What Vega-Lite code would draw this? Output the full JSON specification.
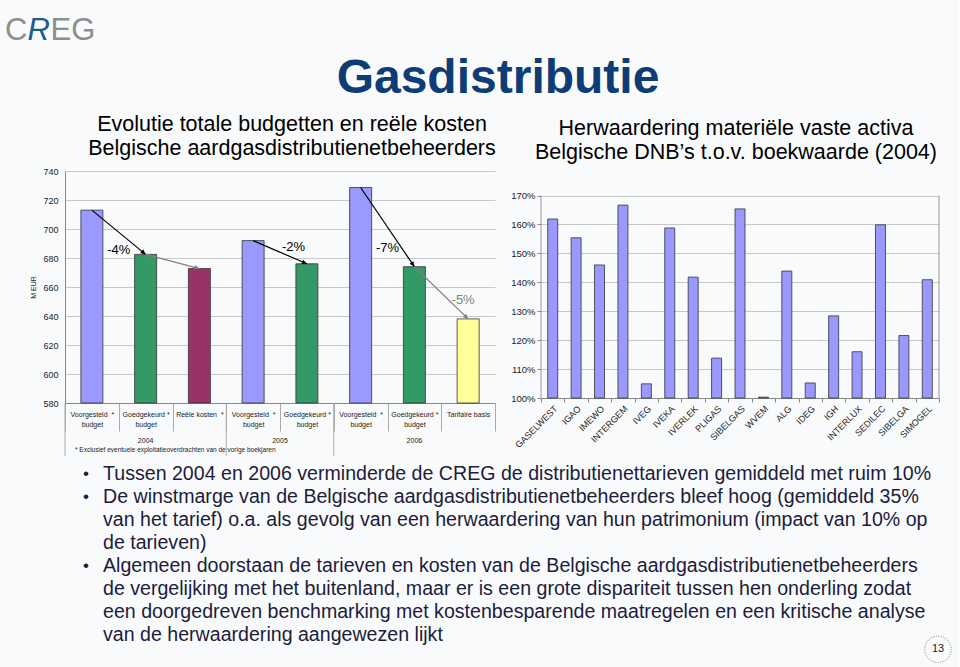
{
  "$schema": "https://vega.github.io/schema/vega-lite/v6.json",
  "background": "#F9FAFC",
  "padding": {"left": 5, "top": 5, "right": 5, "bottom": 5},
  "config": {"font": "Liberation Sans", "view": {"stroke": null}},
  "datasets": {
    "header": [
      {"part": "title", "label": "Gasdistributie"},
      {"part": "C", "label": "C"},
      {"part": "R", "label": "R"},
      {"part": "EG", "label": "EG"}
    ],
    "budget": [
      {"cat": "Voorgesteld\u00a0\u00a0*|budget|2004", "type": "Voorgesteld budget", "year": "2004", "value": 713},
      {"cat": "Goedgekeurd\u00a0*|budget|2004", "type": "Goedgekeurd budget", "year": "2004", "value": 682.5},
      {"cat": "Reële kosten\u00a0\u00a0*||2004", "type": "Reële kosten", "year": "2004", "value": 672.7},
      {"cat": "Voorgesteld\u00a0\u00a0*|budget|2005", "type": "Voorgesteld budget", "year": "2005", "value": 692},
      {"cat": "Goedgekeurd\u00a0*|budget|2005", "type": "Goedgekeurd budget", "year": "2005", "value": 676},
      {"cat": "Voorgesteld\u00a0\u00a0*|budget|2006", "type": "Voorgesteld budget", "year": "2006", "value": 728.6},
      {"cat": "Goedgekeurd\u00a0*|budget|2006", "type": "Goedgekeurd budget", "year": "2006", "value": 674},
      {"cat": "Tarifaire basis||2006", "type": "Tarifaire basis", "year": "2006", "value": 638}
    ],
    "arrows": [
      {"n": 1, "from": "Voorgesteld\u00a0\u00a0*|budget|2004", "to": "Goedgekeurd\u00a0*|budget|2004", "v1": 713, "v2": 682.5},
      {"n": 2, "from": "Goedgekeurd\u00a0*|budget|2004", "to": "Reële kosten\u00a0\u00a0*||2004", "v1": 682.5, "v2": 672.7},
      {"n": 3, "from": "Voorgesteld\u00a0\u00a0*|budget|2005", "to": "Goedgekeurd\u00a0*|budget|2005", "v1": 692, "v2": 676},
      {"n": 4, "from": "Voorgesteld\u00a0\u00a0*|budget|2006", "to": "Goedgekeurd\u00a0*|budget|2006", "v1": 728.6, "v2": 674},
      {"n": 5, "from": "Goedgekeurd\u00a0*|budget|2006", "to": "Tarifaire basis||2006", "v1": 674, "v2": 638}
    ],
    "pct": [
      {"label": "-4%", "cat": "Voorgesteld\u00a0\u00a0*|budget|2004", "v": 685.8},
      {"label": "-2%", "cat": "Voorgesteld\u00a0\u00a0*|budget|2005", "v": 687.4},
      {"label": "-7%", "cat": "Voorgesteld\u00a0\u00a0*|budget|2006", "v": 687.1},
      {"label": "-5%", "cat": "Tarifaire basis||2006", "v": 650.7}
    ],
    "years": [
      {"year": "2004", "cat": "Goedgekeurd\u00a0*|budget|2004"},
      {"year": "2005", "cat": "Goedgekeurd\u00a0*|budget|2005"},
      {"year": "2006", "cat": "Goedgekeurd\u00a0*|budget|2006"}
    ],
    "seps": [
      {"cat": "Voorgesteld\u00a0\u00a0*|budget|2004"},
      {"cat": "Voorgesteld\u00a0\u00a0*|budget|2005"},
      {"cat": "Voorgesteld\u00a0\u00a0*|budget|2006"}
    ],
    "activa": [
      {"dnb": "GASELWEST", "pct": 161.9},
      {"dnb": "IGAO", "pct": 155.4},
      {"dnb": "IMEWO", "pct": 146.0},
      {"dnb": "INTERGEM", "pct": 166.7},
      {"dnb": "IVEG", "pct": 104.9},
      {"dnb": "IVEKA", "pct": 158.8},
      {"dnb": "IVERLEK", "pct": 141.8},
      {"dnb": "PLIGAS", "pct": 113.8},
      {"dnb": "SIBELGAS", "pct": 165.4},
      {"dnb": "WVEM", "pct": 100.3},
      {"dnb": "ALG", "pct": 143.9},
      {"dnb": "IDEG", "pct": 105.2},
      {"dnb": "IGH", "pct": 128.4},
      {"dnb": "INTERLUX", "pct": 116.0},
      {"dnb": "SEDILEC", "pct": 159.9},
      {"dnb": "SIBELGA", "pct": 121.6},
      {"dnb": "SIMOGEL", "pct": 140.9}
    ],
    "bullets": [
      {"line": 1, "bullet": "•", "text": "Tussen 2004 en 2006 verminderde de CREG de distributienettarieven gemiddeld met ruim 10%"},
      {"line": 2, "bullet": "•", "text": "De winstmarge van de Belgische aardgasdistributienetbeheerders bleef hoog (gemiddeld 35%"},
      {"line": 3, "bullet": "", "text": "van het tarief) o.a. als gevolg van een herwaardering van hun patrimonium (impact van 10% op"},
      {"line": 4, "bullet": "", "text": "de tarieven)"},
      {"line": 5, "bullet": "•", "text": "Algemeen doorstaan de tarieven en kosten van de Belgische aardgasdistributienetbeheerders"},
      {"line": 6, "bullet": "", "text": "de vergelijking met het buitenland, maar er is een grote dispariteit tussen hen onderling zodat"},
      {"line": 7, "bullet": "", "text": "een doorgedreven benchmarking met kostenbesparende maatregelen en een kritische analyse"},
      {"line": 8, "bullet": "", "text": "van de herwaardering aangewezen lijkt"}
    ]
  },
  "spacing": 5,
  "vconcat": [
    {
      "width": 870,
      "height": 103,
      "data": {"name": "header"},
      "layer": [
        {
          "transform": [{"filter": "datum.part == 'title'"}],
          "mark": {"type": "text", "fontSize": 48, "fontWeight": "bold", "color": "#0E3D75", "align": "center", "baseline": "alphabetic"},
          "encoding": {
            "x": {"datum": 433, "type": "quantitative", "scale": {"domain": [0, 870], "nice": false, "zero": false}, "axis": null},
            "y": {"datum": 88, "type": "quantitative", "scale": {"domain": [0, 103], "reverse": true, "nice": false, "zero": false}, "axis": null},
            "text": {"field": "label"}
          }
        },
        {
          "transform": [{"filter": "datum.part == 'C'"}],
          "mark": {"type": "text", "fontSize": 31, "color": "#8E8E8E", "align": "left", "baseline": "alphabetic"},
          "encoding": {
            "x": {"datum": -60, "type": "quantitative", "scale": {"domain": [0, 870], "nice": false, "zero": false}, "axis": null},
            "y": {"datum": 35, "type": "quantitative", "scale": {"domain": [0, 103], "reverse": true, "nice": false, "zero": false}, "axis": null},
            "text": {"field": "label"}
          }
        },
        {
          "transform": [{"filter": "datum.part == 'R'"}],
          "mark": {"type": "text", "fontSize": 31, "fontStyle": "italic", "color": "#1F5C8A", "align": "left", "baseline": "alphabetic"},
          "encoding": {
            "x": {"datum": -37.5, "type": "quantitative", "scale": {"domain": [0, 870], "nice": false, "zero": false}, "axis": null},
            "y": {"datum": 35, "type": "quantitative", "scale": {"domain": [0, 103], "reverse": true, "nice": false, "zero": false}, "axis": null},
            "text": {"field": "label"}
          }
        },
        {
          "transform": [{"filter": "datum.part == 'EG'"}],
          "mark": {"type": "text", "fontSize": 31, "color": "#8E8E8E", "align": "left", "baseline": "alphabetic"},
          "encoding": {
            "x": {"datum": -14.5, "type": "quantitative", "scale": {"domain": [0, 870], "nice": false, "zero": false}, "axis": null},
            "y": {"datum": 35, "type": "quantitative", "scale": {"domain": [0, 103], "reverse": true, "nice": false, "zero": false}, "axis": null},
            "text": {"field": "label"}
          }
        }
      ]
    },
    {
      "spacing": 14,
      "hconcat": [
        {
          "width": 430,
          "height": 232,
          "title": {"text": ["Evolutie totale budgetten en reële kosten", "Belgische aardgasdistributienetbeheerders"], "fontSize": 21.5, "fontWeight": "normal", "color": "#000000", "lineHeight": 24, "offset": 8, "dx": 12, "anchor": "middle"},
          "layer": [
            {
              "data": {"name": "budget"},
              "mark": {"type": "bar", "width": 22, "stroke": "#333333", "strokeWidth": 0.8},
              "encoding": {
                "x": {"field": "cat", "type": "nominal", "sort": null,
                  "scale": {"domain": ["Voorgesteld\u00a0\u00a0*|budget|2004", "Goedgekeurd\u00a0*|budget|2004", "Reële kosten\u00a0\u00a0*||2004", "Voorgesteld\u00a0\u00a0*|budget|2005", "Goedgekeurd\u00a0*|budget|2005", "Voorgesteld\u00a0\u00a0*|budget|2006", "Goedgekeurd\u00a0*|budget|2006", "Tarifaire basis||2006"], "paddingInner": 0, "paddingOuter": 0},
                  "axis": {"title": null, "labelAngle": 0, "labelFontSize": 7, "labelColor": "#222222", "labelExpr": "datum.value ? slice(split(datum.value, '|'), 0, 2) : ''", "labelLineHeight": 10, "labelBaseline": "top", "tickBand": "extent", "tickSize": 28, "tickColor": "#AAAAAA", "domainColor": "#888888", "labelPadding": -21}},
                "y": {"field": "value", "type": "quantitative",
                  "scale": {"domain": [580, 740], "zero": false, "nice": false},
                  "axis": {"title": "M EUR", "values": [580, 600, 620, 640, 660, 680, 700, 720, 740], "labelFontSize": 9, "labelColor": "#222222", "ticks": false, "labelPadding": 7, "gridColor": "#C8C8C8", "domainColor": "#888888", "titleFontSize": 7, "titleFontWeight": "normal", "titleColor": "#222222", "titlePadding": 6}},
                "y2": {"datum": 580},
                "color": {"field": "type", "type": "nominal", "scale": {"domain": ["Voorgesteld budget", "Goedgekeurd budget", "Reële kosten", "Tarifaire basis"], "range": ["#9999FF", "#339966", "#993366", "#FFFF99"]}, "legend": null}
              }
            },
            {
              "data": {"name": "seps"},
              "mark": {"type": "rule", "color": "#AAAAAA", "strokeWidth": 1},
              "encoding": {
                "x": {"field": "cat", "type": "nominal", "sort": null, "bandPosition": 0,
                  "scale": {"domain": ["Voorgesteld\u00a0\u00a0*|budget|2004", "Goedgekeurd\u00a0*|budget|2004", "Reële kosten\u00a0\u00a0*||2004", "Voorgesteld\u00a0\u00a0*|budget|2005", "Goedgekeurd\u00a0*|budget|2005", "Voorgesteld\u00a0\u00a0*|budget|2006", "Goedgekeurd\u00a0*|budget|2006", "Tarifaire basis||2006"], "paddingInner": 0, "paddingOuter": 0},
                  "axis": {"title": null, "labelAngle": 0, "labelFontSize": 7, "labelColor": "#222222", "labelExpr": "datum.value ? slice(split(datum.value, '|'), 0, 2) : ''", "labelLineHeight": 10, "labelBaseline": "top", "tickBand": "extent", "tickSize": 28, "tickColor": "#AAAAAA", "domainColor": "#888888", "labelPadding": -21}},
                "y": {"datum": 580, "type": "quantitative",
                  "scale": {"domain": [580, 740], "zero": false, "nice": false},
                  "axis": {"title": "M EUR", "values": [580, 600, 620, 640, 660, 680, 700, 720, 740], "labelFontSize": 9, "labelColor": "#222222", "ticks": false, "labelPadding": 7, "gridColor": "#C8C8C8", "domainColor": "#888888", "titleFontSize": 7, "titleFontWeight": "normal", "titleColor": "#222222", "titlePadding": 6}},
                "y2": {"datum": 543.6}
              }
            },
            {
              "data": {"name": "years"},
              "transform": [{"filter": "datum.year != '2005'"}],
              "mark": {"type": "text", "fontSize": 7, "color": "#222222", "baseline": "middle", "align": "center"},
              "encoding": {
                "x": {"field": "cat", "type": "nominal", "sort": null, "bandPosition": 0.5,
                  "scale": {"domain": ["Voorgesteld\u00a0\u00a0*|budget|2004", "Goedgekeurd\u00a0*|budget|2004", "Reële kosten\u00a0\u00a0*||2004", "Voorgesteld\u00a0\u00a0*|budget|2005", "Goedgekeurd\u00a0*|budget|2005", "Voorgesteld\u00a0\u00a0*|budget|2006", "Goedgekeurd\u00a0*|budget|2006", "Tarifaire basis||2006"], "paddingInner": 0, "paddingOuter": 0},
                  "axis": {"title": null, "labelAngle": 0, "labelFontSize": 7, "labelColor": "#222222", "labelExpr": "datum.value ? slice(split(datum.value, '|'), 0, 2) : ''", "labelLineHeight": 10, "labelBaseline": "top", "tickBand": "extent", "tickSize": 28, "tickColor": "#AAAAAA", "domainColor": "#888888", "labelPadding": -21}},
                "y": {"datum": 554, "type": "quantitative",
                  "scale": {"domain": [580, 740], "zero": false, "nice": false},
                  "axis": {"title": "M EUR", "values": [580, 600, 620, 640, 660, 680, 700, 720, 740], "labelFontSize": 9, "labelColor": "#222222", "ticks": false, "labelPadding": 7, "gridColor": "#C8C8C8", "domainColor": "#888888", "titleFontSize": 7, "titleFontWeight": "normal", "titleColor": "#222222", "titlePadding": 6}},
                "text": {"field": "year"}
              }
            },
            {
              "data": {"name": "years"},
              "transform": [{"filter": "datum.year == '2005'"}],
              "mark": {"type": "text", "fontSize": 7, "color": "#222222", "baseline": "middle", "align": "center"},
              "encoding": {
                "x": {"field": "cat", "type": "nominal", "sort": null, "bandPosition": 0,
                  "scale": {"domain": ["Voorgesteld\u00a0\u00a0*|budget|2004", "Goedgekeurd\u00a0*|budget|2004", "Reële kosten\u00a0\u00a0*||2004", "Voorgesteld\u00a0\u00a0*|budget|2005", "Goedgekeurd\u00a0*|budget|2005", "Voorgesteld\u00a0\u00a0*|budget|2006", "Goedgekeurd\u00a0*|budget|2006", "Tarifaire basis||2006"], "paddingInner": 0, "paddingOuter": 0},
                  "axis": {"title": null, "labelAngle": 0, "labelFontSize": 7, "labelColor": "#222222", "labelExpr": "datum.value ? slice(split(datum.value, '|'), 0, 2) : ''", "labelLineHeight": 10, "labelBaseline": "top", "tickBand": "extent", "tickSize": 28, "tickColor": "#AAAAAA", "domainColor": "#888888", "labelPadding": -21}},
                "y": {"datum": 554, "type": "quantitative",
                  "scale": {"domain": [580, 740], "zero": false, "nice": false},
                  "axis": {"title": "M EUR", "values": [580, 600, 620, 640, 660, 680, 700, 720, 740], "labelFontSize": 9, "labelColor": "#222222", "ticks": false, "labelPadding": 7, "gridColor": "#C8C8C8", "domainColor": "#888888", "titleFontSize": 7, "titleFontWeight": "normal", "titleColor": "#222222", "titlePadding": 6}},
                "text": {"field": "year"}
              }
            },
            {
              "data": {"values": [{"note": "* Exclusief eventuele exploitatieoverdrachten van de vorige boekjaren", "cat": "Voorgesteld\u00a0\u00a0*|budget|2004"}]},
              "mark": {"type": "text", "fontSize": 6.5, "color": "#222222", "baseline": "middle", "align": "left", "dx": 10},
              "encoding": {
                "x": {"field": "cat", "type": "nominal", "sort": null, "bandPosition": 0,
                  "scale": {"domain": ["Voorgesteld\u00a0\u00a0*|budget|2004", "Goedgekeurd\u00a0*|budget|2004", "Reële kosten\u00a0\u00a0*||2004", "Voorgesteld\u00a0\u00a0*|budget|2005", "Goedgekeurd\u00a0*|budget|2005", "Voorgesteld\u00a0\u00a0*|budget|2006", "Goedgekeurd\u00a0*|budget|2006", "Tarifaire basis||2006"], "paddingInner": 0, "paddingOuter": 0},
                  "axis": {"title": null, "labelAngle": 0, "labelFontSize": 7, "labelColor": "#222222", "labelExpr": "datum.value ? slice(split(datum.value, '|'), 0, 2) : ''", "labelLineHeight": 10, "labelBaseline": "top", "tickBand": "extent", "tickSize": 28, "tickColor": "#AAAAAA", "domainColor": "#888888", "labelPadding": -21}},
                "y": {"datum": 547.7, "type": "quantitative",
                  "scale": {"domain": [580, 740], "zero": false, "nice": false},
                  "axis": {"title": "M EUR", "values": [580, 600, 620, 640, 660, 680, 700, 720, 740], "labelFontSize": 9, "labelColor": "#222222", "ticks": false, "labelPadding": 7, "gridColor": "#C8C8C8", "domainColor": "#888888", "titleFontSize": 7, "titleFontWeight": "normal", "titleColor": "#222222", "titlePadding": 6}},
                "text": {"field": "note"}
              }
            },
            {
              "data": {"name": "arrows"},
              "mark": {"type": "rule", "strokeWidth": 1.2},
              "encoding": {
                "x": {"field": "from", "type": "nominal", "sort": null, "bandPosition": 0.5,
                  "scale": {"domain": ["Voorgesteld\u00a0\u00a0*|budget|2004", "Goedgekeurd\u00a0*|budget|2004", "Reële kosten\u00a0\u00a0*||2004", "Voorgesteld\u00a0\u00a0*|budget|2005", "Goedgekeurd\u00a0*|budget|2005", "Voorgesteld\u00a0\u00a0*|budget|2006", "Goedgekeurd\u00a0*|budget|2006", "Tarifaire basis||2006"], "paddingInner": 0, "paddingOuter": 0},
                  "axis": {"title": null, "labelAngle": 0, "labelFontSize": 7, "labelColor": "#222222", "labelExpr": "datum.value ? slice(split(datum.value, '|'), 0, 2) : ''", "labelLineHeight": 10, "labelBaseline": "top", "tickBand": "extent", "tickSize": 28, "tickColor": "#AAAAAA", "domainColor": "#888888", "labelPadding": -21}},
                "x2": {"field": "to", "bandPosition": 0.5},
                "y": {"field": "v1", "type": "quantitative",
                  "scale": {"domain": [580, 740], "zero": false, "nice": false},
                  "axis": {"title": "M EUR", "values": [580, 600, 620, 640, 660, 680, 700, 720, 740], "labelFontSize": 9, "labelColor": "#222222", "ticks": false, "labelPadding": 7, "gridColor": "#C8C8C8", "domainColor": "#888888", "titleFontSize": 7, "titleFontWeight": "normal", "titleColor": "#222222", "titlePadding": 6}},
                "y2": {"field": "v2"},
                "color": {"condition": {"test": "datum.n == 2 || datum.n == 5", "value": "#808080"}, "value": "#000000"}
              }
            },
            {
              "data": {"name": "arrows"},
              "mark": {"type": "point", "shape": "M0,0L-0.6,-1.3L0.6,-1.3Z", "filled": true, "size": 60, "opacity": 1},
              "encoding": {
                "x": {"field": "to", "type": "nominal", "sort": null, "bandPosition": 0.5,
                  "scale": {"domain": ["Voorgesteld\u00a0\u00a0*|budget|2004", "Goedgekeurd\u00a0*|budget|2004", "Reële kosten\u00a0\u00a0*||2004", "Voorgesteld\u00a0\u00a0*|budget|2005", "Goedgekeurd\u00a0*|budget|2005", "Voorgesteld\u00a0\u00a0*|budget|2006", "Goedgekeurd\u00a0*|budget|2006", "Tarifaire basis||2006"], "paddingInner": 0, "paddingOuter": 0},
                  "axis": {"title": null, "labelAngle": 0, "labelFontSize": 7, "labelColor": "#222222", "labelExpr": "datum.value ? slice(split(datum.value, '|'), 0, 2) : ''", "labelLineHeight": 10, "labelBaseline": "top", "tickBand": "extent", "tickSize": 28, "tickColor": "#AAAAAA", "domainColor": "#888888", "labelPadding": -21}},
                "y": {"field": "v2", "type": "quantitative",
                  "scale": {"domain": [580, 740], "zero": false, "nice": false},
                  "axis": {"title": "M EUR", "values": [580, 600, 620, 640, 660, 680, 700, 720, 740], "labelFontSize": 9, "labelColor": "#222222", "ticks": false, "labelPadding": 7, "gridColor": "#C8C8C8", "domainColor": "#888888", "titleFontSize": 7, "titleFontWeight": "normal", "titleColor": "#222222", "titlePadding": 6}},
                "angle": {"field": "n", "type": "quantitative", "scale": {"domain": [1, 2, 3, 4, 5], "range": [309.6, 284.9, 293.4, 325.9, 314.3]}, "legend": null},
                "color": {"condition": {"test": "datum.n == 2 || datum.n == 5", "value": "#808080"}, "value": "#000000"}
              }
            },
            {
              "data": {"name": "pct"},
              "transform": [{"filter": "datum.label == '-4%' || datum.label == '-7%'"}],
              "mark": {"type": "text", "fontSize": 13, "color": "#000000", "align": "center", "baseline": "middle"},
              "encoding": {
                "x": {"field": "cat", "type": "nominal", "sort": null, "bandPosition": 1,
                  "scale": {"domain": ["Voorgesteld\u00a0\u00a0*|budget|2004", "Goedgekeurd\u00a0*|budget|2004", "Reële kosten\u00a0\u00a0*||2004", "Voorgesteld\u00a0\u00a0*|budget|2005", "Goedgekeurd\u00a0*|budget|2005", "Voorgesteld\u00a0\u00a0*|budget|2006", "Goedgekeurd\u00a0*|budget|2006", "Tarifaire basis||2006"], "paddingInner": 0, "paddingOuter": 0},
                  "axis": {"title": null, "labelAngle": 0, "labelFontSize": 7, "labelColor": "#222222", "labelExpr": "datum.value ? slice(split(datum.value, '|'), 0, 2) : ''", "labelLineHeight": 10, "labelBaseline": "top", "tickBand": "extent", "tickSize": 28, "tickColor": "#AAAAAA", "domainColor": "#888888", "labelPadding": -21}},
                "y": {"field": "v", "type": "quantitative",
                  "scale": {"domain": [580, 740], "zero": false, "nice": false},
                  "axis": {"title": "M EUR", "values": [580, 600, 620, 640, 660, 680, 700, 720, 740], "labelFontSize": 9, "labelColor": "#222222", "ticks": false, "labelPadding": 7, "gridColor": "#C8C8C8", "domainColor": "#888888", "titleFontSize": 7, "titleFontWeight": "normal", "titleColor": "#222222", "titlePadding": 6}},
                "text": {"field": "label"}
              }
            },
            {
              "data": {"name": "pct"},
              "transform": [{"filter": "datum.label == '-2%'"}],
              "mark": {"type": "text", "fontSize": 13, "color": "#000000", "align": "left", "baseline": "middle", "dx": 2},
              "encoding": {
                "x": {"field": "cat", "type": "nominal", "sort": null, "bandPosition": 1,
                  "scale": {"domain": ["Voorgesteld\u00a0\u00a0*|budget|2004", "Goedgekeurd\u00a0*|budget|2004", "Reële kosten\u00a0\u00a0*||2004", "Voorgesteld\u00a0\u00a0*|budget|2005", "Goedgekeurd\u00a0*|budget|2005", "Voorgesteld\u00a0\u00a0*|budget|2006", "Goedgekeurd\u00a0*|budget|2006", "Tarifaire basis||2006"], "paddingInner": 0, "paddingOuter": 0},
                  "axis": {"title": null, "labelAngle": 0, "labelFontSize": 7, "labelColor": "#222222", "labelExpr": "datum.value ? slice(split(datum.value, '|'), 0, 2) : ''", "labelLineHeight": 10, "labelBaseline": "top", "tickBand": "extent", "tickSize": 28, "tickColor": "#AAAAAA", "domainColor": "#888888", "labelPadding": -21}},
                "y": {"field": "v", "type": "quantitative",
                  "scale": {"domain": [580, 740], "zero": false, "nice": false},
                  "axis": {"title": "M EUR", "values": [580, 600, 620, 640, 660, 680, 700, 720, 740], "labelFontSize": 9, "labelColor": "#222222", "ticks": false, "labelPadding": 7, "gridColor": "#C8C8C8", "domainColor": "#888888", "titleFontSize": 7, "titleFontWeight": "normal", "titleColor": "#222222", "titlePadding": 6}},
                "text": {"field": "label"}
              }
            },
            {
              "data": {"name": "pct"},
              "transform": [{"filter": "datum.label == '-5%'"}],
              "mark": {"type": "text", "fontSize": 13, "color": "#808080", "align": "center", "baseline": "middle", "dx": -5},
              "encoding": {
                "x": {"field": "cat", "type": "nominal", "sort": null, "bandPosition": 0.5,
                  "scale": {"domain": ["Voorgesteld\u00a0\u00a0*|budget|2004", "Goedgekeurd\u00a0*|budget|2004", "Reële kosten\u00a0\u00a0*||2004", "Voorgesteld\u00a0\u00a0*|budget|2005", "Goedgekeurd\u00a0*|budget|2005", "Voorgesteld\u00a0\u00a0*|budget|2006", "Goedgekeurd\u00a0*|budget|2006", "Tarifaire basis||2006"], "paddingInner": 0, "paddingOuter": 0},
                  "axis": {"title": null, "labelAngle": 0, "labelFontSize": 7, "labelColor": "#222222", "labelExpr": "datum.value ? slice(split(datum.value, '|'), 0, 2) : ''", "labelLineHeight": 10, "labelBaseline": "top", "tickBand": "extent", "tickSize": 28, "tickColor": "#AAAAAA", "domainColor": "#888888", "labelPadding": -21}},
                "y": {"field": "v", "type": "quantitative",
                  "scale": {"domain": [580, 740], "zero": false, "nice": false},
                  "axis": {"title": "M EUR", "values": [580, 600, 620, 640, 660, 680, 700, 720, 740], "labelFontSize": 9, "labelColor": "#222222", "ticks": false, "labelPadding": 7, "gridColor": "#C8C8C8", "domainColor": "#888888", "titleFontSize": 7, "titleFontWeight": "normal", "titleColor": "#222222", "titlePadding": 6}},
                "text": {"field": "label"}
              }
            }
          ]
        },
        {
          "width": 398,
          "height": 227,
          "title": {"text": ["Herwaardering materiële vaste activa", "Belgische DNB’s t.o.v. boekwaarde (2004)"], "fontSize": 21.5, "fontWeight": "normal", "color": "#000000", "lineHeight": 24, "offset": 8, "anchor": "middle", "dx": -4},
          "data": {"name": "activa"},
          "layer": [
            {
              "mark": {"type": "bar", "width": 10, "fill": "#9999FF", "stroke": "#333333", "strokeWidth": 0.8},
              "encoding": {
                "x": {"field": "dnb", "type": "nominal", "sort": null,
                  "scale": {"domain": ["GASELWEST", "IGAO", "IMEWO", "INTERGEM", "IVEG", "IVEKA", "IVERLEK", "PLIGAS", "SIBELGAS", "WVEM", "ALG", "IDEG", "IGH", "INTERLUX", "SEDILEC", "SIBELGA", "SIMOGEL"], "paddingInner": 0, "paddingOuter": 0},
                  "axis": {"title": null, "labelAngle": -45, "labelFontSize": 9, "labelColor": "#222222", "tickBand": "extent", "tickSize": 4, "tickColor": "#888888", "domainColor": "#888888", "labelPadding": 2}},
                "y": {"field": "pct", "type": "quantitative",
                  "scale": {"domain": [100, 178.5], "zero": false, "nice": false},
                  "axis": {"title": null, "values": [100, 110, 120, 130, 140, 150, 160, 170], "labelExpr": "datum.value + '%'", "labelFontSize": 9.5, "labelColor": "#222222", "tickSize": 4, "tickColor": "#888888", "domain": false, "gridColor": "#C8C8C8", "labelPadding": 2}},
                "y2": {"datum": 100}
              }
            },
            {
              "transform": [{"filter": "datum.dnb == 'GASELWEST'"}],
              "mark": {"type": "rule", "color": "#999999", "strokeWidth": 1},
              "encoding": {
                "x": {"field": "dnb", "type": "nominal", "sort": null, "bandPosition": 0,
                  "scale": {"domain": ["GASELWEST", "IGAO", "IMEWO", "INTERGEM", "IVEG", "IVEKA", "IVERLEK", "PLIGAS", "SIBELGAS", "WVEM", "ALG", "IDEG", "IGH", "INTERLUX", "SEDILEC", "SIBELGA", "SIMOGEL"], "paddingInner": 0, "paddingOuter": 0},
                  "axis": {"title": null, "labelAngle": -45, "labelFontSize": 9, "labelColor": "#222222", "tickBand": "extent", "tickSize": 4, "tickColor": "#888888", "domainColor": "#888888", "labelPadding": 2}},
                "y": {"datum": 100, "type": "quantitative",
                  "scale": {"domain": [100, 178.5], "zero": false, "nice": false},
                  "axis": {"title": null, "values": [100, 110, 120, 130, 140, 150, 160, 170], "labelExpr": "datum.value + '%'", "labelFontSize": 9.5, "labelColor": "#222222", "tickSize": 4, "tickColor": "#888888", "domain": false, "gridColor": "#C8C8C8", "labelPadding": 2}},
                "y2": {"datum": 170}
              }
            },
            {
              "transform": [{"filter": "datum.dnb == 'SIMOGEL'"}],
              "mark": {"type": "rule", "color": "#999999", "strokeWidth": 1},
              "encoding": {
                "x": {"field": "dnb", "type": "nominal", "sort": null, "bandPosition": 1,
                  "scale": {"domain": ["GASELWEST", "IGAO", "IMEWO", "INTERGEM", "IVEG", "IVEKA", "IVERLEK", "PLIGAS", "SIBELGAS", "WVEM", "ALG", "IDEG", "IGH", "INTERLUX", "SEDILEC", "SIBELGA", "SIMOGEL"], "paddingInner": 0, "paddingOuter": 0},
                  "axis": {"title": null, "labelAngle": -45, "labelFontSize": 9, "labelColor": "#222222", "tickBand": "extent", "tickSize": 4, "tickColor": "#888888", "domainColor": "#888888", "labelPadding": 2}},
                "y": {"datum": 100, "type": "quantitative",
                  "scale": {"domain": [100, 178.5], "zero": false, "nice": false},
                  "axis": {"title": null, "values": [100, 110, 120, 130, 140, 150, 160, 170], "labelExpr": "datum.value + '%'", "labelFontSize": 9.5, "labelColor": "#222222", "tickSize": 4, "tickColor": "#888888", "domain": false, "gridColor": "#C8C8C8", "labelPadding": 2}},
                "y2": {"datum": 170}
              }
            }
          ]
        }
      ]
    },
    {
      "width": 870,
      "height": 185,
      "layer": [
        {
          "data": {"name": "bullets"},
          "transform": [{"filter": "datum.bullet != ''"}],
          "mark": {"type": "text", "fontSize": 17, "color": "#1C1C3C", "align": "left", "baseline": "middle"},
          "encoding": {
            "x": {"datum": 18, "type": "quantitative", "scale": {"domain": [0, 870], "nice": false, "zero": false}, "axis": null},
            "y": {"field": "line", "type": "quantitative", "scale": {"domain": [0.5, 8.5], "reverse": true, "nice": false, "zero": false}, "axis": null},
            "text": {"field": "bullet"}
          }
        },
        {
          "data": {"name": "bullets"},
          "mark": {"type": "text", "fontSize": 19.6, "color": "#1C1C3C", "align": "left", "baseline": "middle"},
          "encoding": {
            "x": {"datum": 38, "type": "quantitative", "scale": {"domain": [0, 870], "nice": false, "zero": false}, "axis": null},
            "y": {"field": "line", "type": "quantitative", "scale": {"domain": [0.5, 8.5], "reverse": true, "nice": false, "zero": false}, "axis": null},
            "text": {"field": "text"}
          }
        },
        {
          "data": {"values": [{"page": "13"}]},
          "mark": {"type": "point", "shape": "circle", "size": 700, "filled": false, "stroke": "#777777", "strokeWidth": 1, "strokeDash": [1, 1.5], "opacity": 1},
          "encoding": {
            "x": {"datum": 873, "type": "quantitative", "scale": {"domain": [0, 870], "nice": false, "zero": false}, "axis": null},
            "y": {"datum": 8.6, "type": "quantitative", "scale": {"domain": [0.5, 8.5], "reverse": true, "nice": false, "zero": false}, "axis": null}
          }
        },
        {
          "data": {"values": [{"page": "13"}]},
          "mark": {"type": "text", "fontSize": 11, "color": "#222222", "align": "center", "baseline": "middle"},
          "encoding": {
            "x": {"datum": 873, "type": "quantitative", "scale": {"domain": [0, 870], "nice": false, "zero": false}, "axis": null},
            "y": {"datum": 8.6, "type": "quantitative", "scale": {"domain": [0.5, 8.5], "reverse": true, "nice": false, "zero": false}, "axis": null},
            "text": {"field": "page"}
          }
        }
      ]
    }
  ]
}
